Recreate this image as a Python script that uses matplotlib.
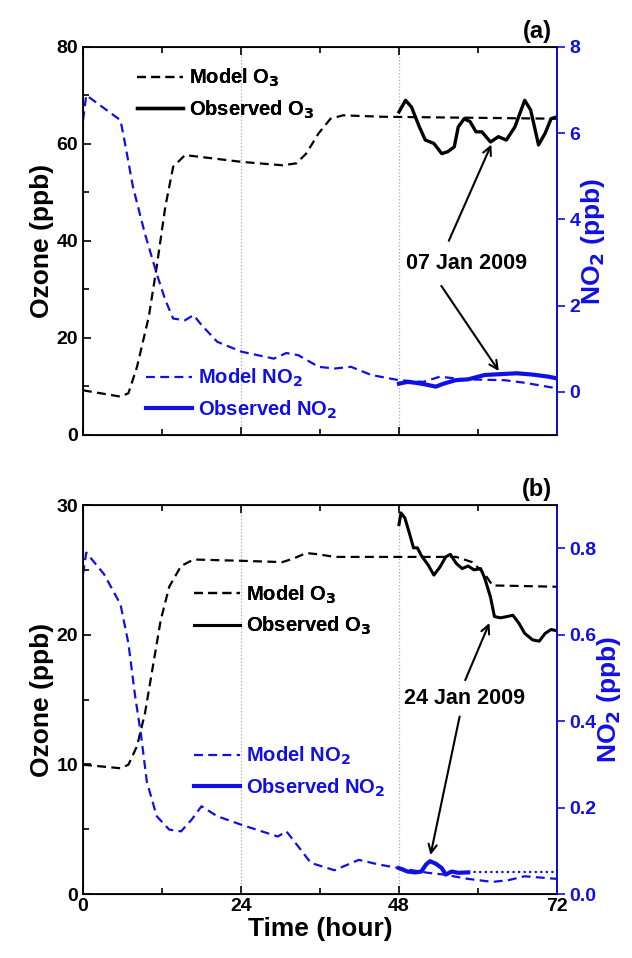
import numpy as np
import matplotlib
matplotlib.use("Agg")
import matplotlib.pyplot as plt
from matplotlib.lines import Line2D
from matplotlib.ticker import MultipleLocator

plt.rcParams['font.family'] = ['Liberation Sans', 'DejaVu Sans']
plt.rcParams['font.weight'] = 'bold'
plt.rcParams['mathtext.default'] = 'bf'

BLUE = '#1010e6'

# ---- panel (a): 07 Jan 2009 ----
a_mo3_t = [0, 5.7, 6.9, 8.2, 10, 11.2, 12.5, 13.7, 15.5, 18, 24.1, 30.3, 32.4, 33.9, 35.8, 37.6, 39.5, 45.6, 72]
a_mo3_v = [9.2, 7.9, 8.6, 14, 24.4, 34.7, 47, 55.3, 57.7, 57.3, 56.3, 55.6, 56, 58, 62.2, 65.2, 65.9, 65.6, 65.2]

a_oo3_t = [48, 49, 49.9, 51.1, 52, 53.3, 54.5, 55.4, 56.4, 57, 57.9, 58.8, 59.7, 60.6, 61.9, 63.1, 64.3,
           65.6, 67.1, 68, 69.2, 70.2, 71.1, 72]
a_oo3_v = [66.6, 69, 67.6, 63.5, 60.8, 60.1, 58, 58.4, 59.4, 63.5, 65.2, 64.6, 62.5, 62.5, 60.4, 61.5, 60.8,
           63.5, 69, 67, 59.8, 62.2, 65.2, 65.6]

a_mno2_t = [0, 0.5, 5.7, 6.3, 7.6, 9.4, 11.2, 12.5, 13.7, 15.5, 16.8, 18, 20.4, 24.1, 29, 30.9, 32.7, 35.8,
            38.2, 40.7, 43.8, 48, 51.7, 54.2, 57.9, 64, 67.1, 72]
a_mno2_v = [6.3, 6.88, 6.3, 5.83, 4.75, 3.67, 2.74, 2.13, 1.7, 1.66, 1.78, 1.55, 1.16, 0.93, 0.77, 0.9, 0.85,
            0.58, 0.54, 0.58, 0.39, 0.27, 0.23, 0.35, 0.29, 0.27, 0.21, 0.08]

a_ono2_t = [48, 49.3, 50.5, 51.7, 53.6, 54.8, 56.6, 58.5, 61, 63.4, 65.9, 68.3, 70.8, 72]
a_ono2_v = [0.19, 0.23, 0.21, 0.18, 0.12, 0.19, 0.27, 0.29, 0.39, 0.41, 0.43, 0.40, 0.35, 0.31]

# ---- panel (b): 24 Jan 2009 ----
b_mo3_t = [0, 5.7, 6.9, 8.2, 9.4, 10.6, 11.8, 13.1, 14.9, 16.8, 24.1, 30.3, 32.1, 33.9, 35.8, 38.2, 48,
           56.7, 59.1, 61, 62.2, 72]
b_mo3_v = [9.97, 9.7, 9.97, 11.4, 13.9, 17.5, 21.1, 23.7, 25.3, 25.8, 25.7, 25.6, 25.9, 26.3, 26.2, 26.0, 26.0,
           26.0, 25.6, 24.7, 23.8, 23.7]

b_oo3_t = [48, 48.3, 48.9, 49.6, 50.2, 50.8, 51.4, 52.4, 53.3, 54.2, 55.1, 55.8, 56.7, 57.6, 58.5, 59.4, 60.4,
           61, 61.9, 62.5, 63.4, 64.4, 65.3, 66.2, 67.1, 68.3, 69.3, 70.2, 71.1, 72]
b_oo3_v = [28.5, 29.4, 29.0, 27.8, 26.7, 26.7, 26.1, 25.4, 24.6, 25.2, 26.0, 26.2, 25.5, 25.1, 25.3, 25.0, 25.1,
           24.4, 22.9, 21.4, 21.3, 21.4, 21.5, 20.9, 20.1, 19.6, 19.5, 20.1, 20.4, 20.3]

b_mno2_t = [0, 0.5, 3.2, 5.7, 6.9, 7.9, 8.8, 9.7, 11.2, 13.1, 14.9, 16.5, 18, 20.4, 24.1, 29.6, 30.9, 32.7,
            34.6, 38.2, 41.9, 45, 48, 52.4, 54.8, 58.5, 62.2, 64.6, 67.1, 72]
b_mno2_v = [0.74, 0.79, 0.74, 0.67, 0.58, 0.46, 0.37, 0.26, 0.18, 0.149, 0.145, 0.172, 0.203, 0.18, 0.16, 0.133,
            0.145, 0.11, 0.072, 0.055, 0.079, 0.068, 0.06, 0.049, 0.045, 0.035, 0.028, 0.032, 0.041, 0.035]

b_ono2_t = [48, 49.3, 50.5, 51.4, 52.1, 52.7, 53.6, 54.5, 55.1, 56, 57, 58.5]
b_ono2_v = [0.060, 0.052, 0.05, 0.052, 0.068, 0.076, 0.07, 0.06, 0.045, 0.052, 0.049, 0.05]
b_ono2_fill_t = [58.5, 72]
b_ono2_fill_v = [0.05, 0.05]

fig = plt.figure(figsize=(6.32, 9.58), dpi=100)
ax_a = fig.add_axes([0.1313, 0.546, 0.75, 0.405])
ax_b = fig.add_axes([0.1313, 0.0668, 0.75, 0.406])

dash = (4, 2.4)
TICK = 14
LAB = 19
LEG = 14.5
ARROW = dict(arrowstyle='->,head_length=0.6,head_width=0.3', lw=1.5, color='k')


def style(ax, ax2, ylim, ymaj, ymin, y2lim, y2ticks, y2fmt, show_x):
    ax.set_xlim(0, 72)
    ax.set_ylim(*ylim)
    ax.xaxis.set_major_locator(MultipleLocator(24))
    ax.xaxis.set_minor_locator(MultipleLocator(12))
    ax.yaxis.set_major_locator(MultipleLocator(ymaj))
    ax.yaxis.set_minor_locator(MultipleLocator(ymin))
    ax.tick_params(which='both', direction='in', top=True, labelsize=TICK, width=1.2)
    ax.tick_params(which='major', length=6)
    ax.tick_params(which='minor', length=4)
    ax.tick_params(axis='x', pad=3)
    if not show_x:
        ax.tick_params(axis='x', labelbottom=False)
    for s in ax.spines.values():
        s.set_linewidth(1.3)
    ax.set_ylabel('Ozone (ppb)', fontsize=LAB, fontweight='bold', labelpad=2)
    ax.axvline(24, color='#aaaaaa', lw=0.9, ls=':', zorder=0)
    ax.axvline(48, color='#aaaaaa', lw=0.9, ls=':', zorder=0)

    ax2.set_ylim(*y2lim)
    ax2.set_yticks(y2ticks)
    ax2.set_yticklabels([y2fmt % v for v in y2ticks])
    ax2.tick_params(axis='y', colors=BLUE, labelcolor=BLUE, direction='out', length=6, width=1.2,
                    labelsize=TICK, pad=3)
    ax2.spines['right'].set_color(BLUE)
    ax2.spines['right'].set_linewidth(1.3)
    ax2.set_ylabel('NO$_2$ (ppb)', color=BLUE, fontsize=LAB, fontweight='bold', labelpad=-1)


# panel (a)
ax_a2 = ax_a.twinx()
ax_a.plot(a_mo3_t, a_mo3_v, color='k', lw=1.6, dashes=dash)
ax_a.plot(a_oo3_t, a_oo3_v, color='k', lw=2.4)
ax_a2.plot(a_mno2_t, a_mno2_v, color=BLUE, lw=1.6, dashes=dash)
ax_a2.plot(a_ono2_t, a_ono2_v, color=BLUE, lw=3.0)
style(ax_a, ax_a2, (0, 80), 20, 10, (-1, 8), [0, 2, 4, 6, 8], '%d', False)

ax_a.text(58.2, 35.4, '07 Jan 2009', ha='center', va='center', fontsize=15.5, fontweight='bold')
ax_a.annotate('', xy=(62.2, 60.4), xytext=(55.4, 39.5), arrowprops=ARROW)
ax_a.annotate('', xy=(63.4, 12.7), xytext=(54.2, 31.2), arrowprops=ARROW)
ax_a.text(0.99, 1.01, '(a)', transform=ax_a.transAxes, ha='right', va='bottom', fontsize=17, fontweight='bold')

leg1 = ax_a.legend([Line2D([], [], color='k', lw=1.6, dashes=dash), Line2D([], [], color='k', lw=2.4)],
                   ['Model O$_3$', 'Observed O$_3$'], loc='upper left', bbox_to_anchor=(0.075, 0.995),
                   frameon=False, fontsize=LEG, handlelength=2.3, handletextpad=0.3, labelspacing=0.45)
ax_a.add_artist(leg1)
ax_a2.legend([Line2D([], [], color=BLUE, lw=1.6, dashes=dash), Line2D([], [], color=BLUE, lw=3.0)],
             ['Model NO$_2$', 'Observed NO$_2$'], loc='lower left', bbox_to_anchor=(0.095, -0.01),
             frameon=False, fontsize=LEG, handlelength=2.3, handletextpad=0.3, labelspacing=0.45,
             labelcolor=BLUE)

# panel (b)
ax_b2 = ax_b.twinx()
ax_b.plot(b_mo3_t, b_mo3_v, color='k', lw=1.6, dashes=dash)
ax_b.plot(b_oo3_t, b_oo3_v, color='k', lw=2.2)
ax_b2.plot(b_mno2_t, b_mno2_v, color=BLUE, lw=1.6, dashes=dash)
ax_b2.plot(b_ono2_t, b_ono2_v, color=BLUE, lw=3.0)
ax_b2.plot(b_ono2_fill_t, b_ono2_fill_v, color=BLUE, lw=1.6, ls=(0, (1, 1.5)))
style(ax_b, ax_b2, (0, 30), 10, 5, (0, 0.9), [0.0, 0.2, 0.4, 0.6, 0.8], '%.1f', True)
ax_b.set_xticks([0, 24, 48, 72])
ax_b.set_xlabel('Time (hour)', fontsize=LAB, fontweight='bold', labelpad=1)

ax_b.text(57.9, 15.1, '24 Jan 2009', ha='center', va='center', fontsize=15.5, fontweight='bold')
ax_b.annotate('', xy=(61.9, 21.1), xytext=(57.9, 16.3), arrowprops=ARROW)
ax_b.annotate('', xy=(52.7, 2.8), xytext=(57.3, 13.9), arrowprops=ARROW)
ax_b.text(0.99, 1.01, '(b)', transform=ax_b.transAxes, ha='right', va='bottom', fontsize=17, fontweight='bold')

leg3 = ax_b.legend([Line2D([], [], color='k', lw=1.6, dashes=dash), Line2D([], [], color='k', lw=2.2)],
                   ['Model O$_3$', 'Observed O$_3$'], loc='upper left', bbox_to_anchor=(0.195, 0.845),
                   frameon=False, fontsize=LEG, handlelength=2.3, handletextpad=0.3, labelspacing=0.45)
ax_b.add_artist(leg3)
ax_b2.legend([Line2D([], [], color=BLUE, lw=1.6, dashes=dash), Line2D([], [], color=BLUE, lw=3.0)],
             ['Model NO$_2$', 'Observed NO$_2$'], loc='upper left', bbox_to_anchor=(0.195, 0.43),
             frameon=False, fontsize=LEG, handlelength=2.3, handletextpad=0.3, labelspacing=0.45,
             labelcolor=BLUE)

fig.savefig('out.png', dpi=100)
